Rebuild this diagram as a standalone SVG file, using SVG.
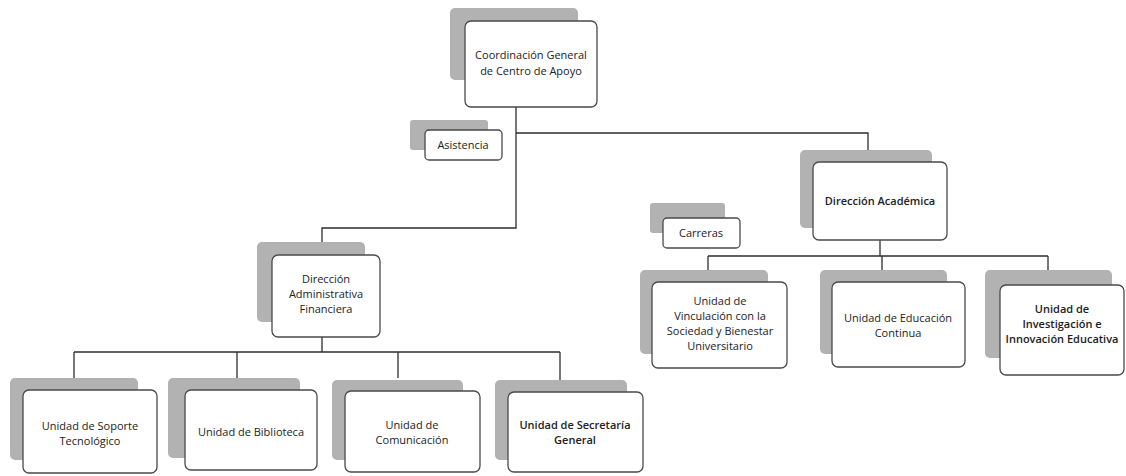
<svg xmlns="http://www.w3.org/2000/svg" width="1126" height="476" viewBox="0 0 1126 476">
<style>
.bk{fill:#b2b2b2;stroke:none}
.fr{fill:#ffffff;stroke:#4a4a4a;stroke-width:1.3}
.t{font-family:"Open Sans","Noto Sans",sans-serif;font-size:11px;fill:#222222;text-anchor:middle}
.b{font-weight:600}
.c{fill:none;stroke:#2e2e2e;stroke-width:1.3}
</style>
<rect width="1126" height="476" fill="#ffffff"/>
<g id="connectors">
<path class="c" d="M516 107V228H322V242"/>
<path class="c" d="M516 133H868V150"/>
<path class="c" d="M322 337V352M74 352H560M74 352V378M237 352V378M398 352V378M560 352V380"/>
<path class="c" d="M880 240V256M708 256H1048M708 256V270M882 256V270M1048 256V270"/>
</g>
<g id="n-coord">
<rect class="bk" x="450" y="8" width="128" height="72" rx="5"/>
<rect class="fr" x="465" y="21" width="132" height="86" rx="6"/>
<text class="t" x="531" y="59">Coordinación General</text>
<text class="t" x="531" y="75">de Centro de Apoyo</text>
</g>
<g id="n-asistencia">
<rect class="bk" x="410" y="120" width="78" height="30" rx="3"/>
<rect class="fr" x="425" y="130" width="77" height="30" rx="4"/>
<text class="t" x="463" y="149">Asistencia</text>
</g>
<g id="n-academica">
<rect class="bk" x="800" y="150" width="132" height="78" rx="5"/>
<rect class="fr" x="813" y="162" width="134" height="78" rx="6"/>
<text class="t b" x="880" y="205">Dirección Académica</text>
</g>
<g id="n-carreras">
<rect class="bk" x="650" y="203" width="75" height="30" rx="3"/>
<rect class="fr" x="663" y="218" width="77" height="30" rx="4"/>
<text class="t" x="701" y="237">Carreras</text>
</g>
<g id="n-administrativa">
<rect class="bk" x="257" y="242" width="108" height="80" rx="5"/>
<rect class="fr" x="272" y="255" width="108" height="82" rx="6"/>
<text class="t" x="326" y="283">Dirección</text>
<text class="t" x="326" y="298">Administrativa</text>
<text class="t" x="326" y="313">Financiera</text>
</g>
<g id="n-vinculacion">
<rect class="bk" x="640" y="270" width="128" height="84" rx="5"/>
<rect class="fr" x="652" y="282" width="135" height="86" rx="6"/>
<text class="t" x="720" y="305">Unidad de</text>
<text class="t" x="720" y="320">Vinculación con la</text>
<text class="t" x="720" y="335">Sociedad y Bienestar</text>
<text class="t" x="720" y="350">Universitario</text>
</g>
<g id="n-continua">
<rect class="bk" x="820" y="270" width="127" height="84" rx="5"/>
<rect class="fr" x="832" y="282" width="133" height="85" rx="6"/>
<text class="t" x="898" y="322">Unidad de Educación</text>
<text class="t" x="898" y="337">Continua</text>
</g>
<g id="n-investigacion">
<rect class="bk" x="985" y="270" width="127" height="88" rx="5"/>
<rect class="fr" x="1000" y="285" width="124" height="90" rx="6"/>
<text class="t b" x="1062" y="313">Unidad de</text>
<text class="t b" x="1062" y="328">Investigación e</text>
<text class="t b" x="1062" y="343">Innovación Educativa</text>
</g>
<g id="n-soporte">
<rect class="bk" x="10" y="378" width="128" height="82" rx="5"/>
<rect class="fr" x="23" y="390" width="134" height="83" rx="6"/>
<text class="t" x="90" y="430">Unidad de Soporte</text>
<text class="t" x="90" y="445">Tecnológico</text>
</g>
<g id="n-biblioteca">
<rect class="bk" x="168" y="378" width="132" height="80" rx="5"/>
<rect class="fr" x="185" y="390" width="132" height="80" rx="6"/>
<text class="t" x="251" y="436">Unidad de Biblioteca</text>
</g>
<g id="n-comunicacion">
<rect class="bk" x="332" y="380" width="131" height="80" rx="5"/>
<rect class="fr" x="345" y="391" width="135" height="81" rx="6"/>
<text class="t" x="412" y="429">Unidad de</text>
<text class="t" x="412" y="444">Comunicación</text>
</g>
<g id="n-secretaria">
<rect class="bk" x="495" y="380" width="132" height="80" rx="5"/>
<rect class="fr" x="508" y="392" width="135" height="80" rx="6"/>
<text class="t b" x="575" y="429">Unidad de Secretaría</text>
<text class="t b" x="575" y="444">General</text>
</g>
</svg>
